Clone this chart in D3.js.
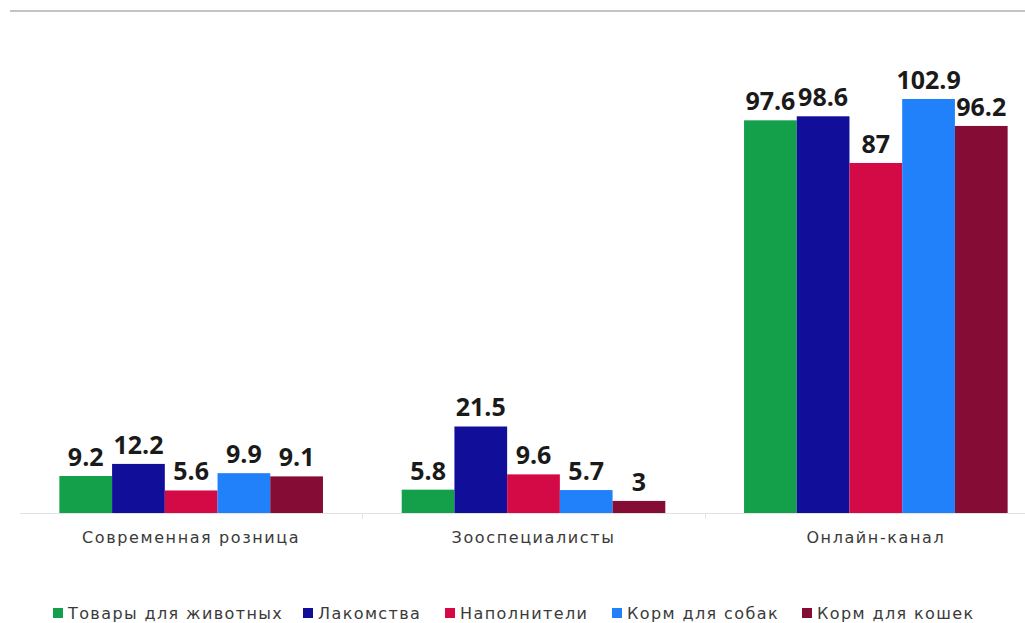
<!DOCTYPE html>
<html>
<head>
<meta charset="utf-8">
<script src="https://d3js.org/d3.v7.min.js"></script>
<style>
  body { margin: 0; background: #fff; }
  svg { display: block; }
  .val { font-family: "Open Sans", sans-serif; font-weight: 700; font-size: 25px; fill: #1a1a1a; text-anchor: middle; }
  .cat { font-family: "DejaVu Sans", sans-serif; font-size: 16px; letter-spacing: 1.6px; fill: #3a3a3a; text-anchor: middle; }
  .leg { font-family: "DejaVu Sans", sans-serif; font-size: 16px; letter-spacing: 1.4px; fill: #3a3a3a; }
</style>
</head>
<body>
<div id="chart"></div>
<script>
// chart data
const categories = ["Современная розница", "Зооспециалисты", "Онлайн-канал"];
const series = ["Товары для животных", "Лакомства", "Наполнители", "Корм для собак", "Корм для кошек"];
const colors = ["#14a04a", "#110e99", "#d40a46", "#2181fb", "#850c34"];
const values = [
  [9.2, 5.8, 97.6],   // Товары для животных
  [12.2, 21.5, 98.6], // Лакомства
  [5.6, 9.6, 87],     // Наполнители
  [9.9, 5.7, 102.9],  // Корм для собак
  [9.1, 3, 96.2]      // Корм для кошек
];

const width = 1025, height = 623;
const base = 513;

const svg = d3.select("#chart").append("svg")
  .attr("width", width)
  .attr("height", height);

// top border line
svg.append("line")
  .attr("x1", 10).attr("x2", width)
  .attr("y1", 11).attr("y2", 11)
  .attr("stroke", "#c4c4c4").attr("stroke-width", 2);

const x0 = d3.scaleBand()
  .domain(categories)
  .range([20, 1047])
  .paddingInner(0.23)
  .paddingOuter(0.115);

const x1 = d3.scaleBand()
  .domain(series)
  .range([0, x0.bandwidth()]);

const y = d3.scaleLinear()
  .domain([0, 102.9])
  .range([base, 99]);

// baseline + ticks between groups
svg.append("line")
  .attr("x1", 20).attr("x2", width)
  .attr("y1", base + 0.5).attr("y2", base + 0.5)
  .attr("stroke", "#e3e3e3");

const step = x0.step();
[1, 2].forEach(i => {
  const tx = Math.round(20 + i * step) + 0.5;
  svg.append("line")
    .attr("x1", tx).attr("x2", tx)
    .attr("y1", base).attr("y2", base + 6)
    .attr("stroke", "#e3e3e3");
});

const g = svg.selectAll(".grp")
  .data(categories)
  .enter().append("g")
  .attr("class", "grp")
  .attr("transform", d => "translate(" + x0(d) + ",0)");

g.each(function(cat, ci) {
  const grp = d3.select(this);
  series.forEach((s, si) => {
    const v = values[si][ci];
    grp.append("rect")
      .attr("x", x1(s))
      .attr("y", y(v))
      .attr("width", x1.bandwidth())
      .attr("height", base - y(v))
      .attr("fill", colors[si]);
    grp.append("text")
      .attr("class", "val")
      .attr("x", x1(s) + x1.bandwidth() / 2)
      .attr("y", y(v) - 10)
      .text(v);
  });
});

// category labels
svg.selectAll(".cat")
  .data(categories)
  .enter().append("text")
  .attr("class", "cat")
  .attr("x", d => x0(d) + x0.bandwidth() / 2)
  .attr("y", 543)
  .text(d => d);

// legend
const legX = [53, 303, 445, 612, 802];
const leg = svg.selectAll(".legitem")
  .data(series)
  .enter().append("g")
  .attr("transform", (d, i) => "translate(" + legX[i] + ",608)");

leg.append("rect")
  .attr("width", 10).attr("height", 10)
  .attr("fill", (d, i) => colors[i]);

leg.append("text")
  .attr("class", "leg")
  .attr("x", 15)
  .attr("y", 11)
  .text(d => d);
</script>
</body>
</html>
